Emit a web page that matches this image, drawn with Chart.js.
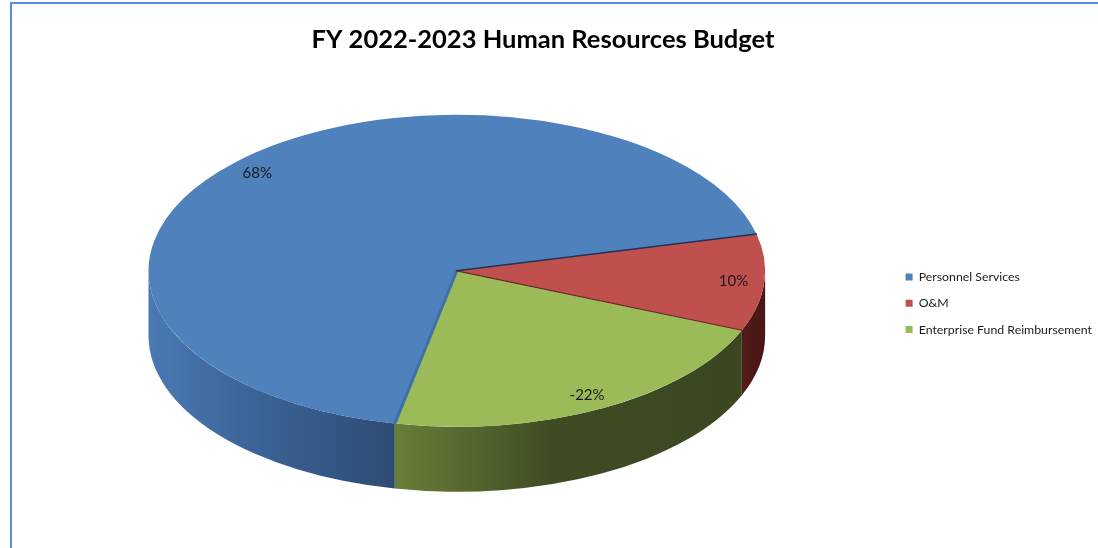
<!DOCTYPE html>
<html>
<head>
<meta charset="utf-8">
<title>FY 2022-2023 Human Resources Budget</title>
<script src="https://cdn.jsdelivr.net/npm/chart.js@4.4.0/dist/chart.umd.min.js"></script>
<style>
  html, body { margin: 0; padding: 0; background: #fff; }
  #frame {
    position: absolute; left: 10px; top: 2px; right: 0; bottom: 0;
    border-top: 2px solid #5b8de2; border-left: 2px solid #5b8de2;
  }
  #wrap { position: absolute; left: 0; top: 0; width: 1098px; height: 548px; }
</style>
</head>
<body>
<div id="frame"></div>
<div id="wrap"><canvas id="budgetChart"></canvas></div>
<script>
'use strict';
// budget split, percent of total (reimbursement comes back as a negative)
const categories = ['Personnel Services', 'O&M', 'Enterprise Fund Reimbursement'];
const shares = [68, 10, -22];

// slice colours: top face, side wall (left -> right), line where the slice starts
const topColors = ['#4f81bd', '#c0504d', '#9bbb59'];
const wallColors = [
  ['#4a79b3', '#3a6396', '#2e4b74'],
  ['#561c1a', '#4d1917', '#481715'],
  ['#697e37', '#3f4c23', '#3b4721'],
];
const seamColors = ['#3f70aa', '#1f3452', '#6a2624'];
const seamWidths = [3, 1.5, 1.2];

const FONT = 'Lato, "Open Sans", sans-serif';

// fake 3d: the flat pie gets squashed into an ellipse and given a rim
const STRETCH = 1.26; // horizontal radius / library radius
const TILT = 0.506;   // ellipse height / width
const DEPTH = 65;     // rim height in px

const total = shares.reduce((sum, v) => sum + Math.abs(v), 0);

function geometry(arc) {
  const rx = arc.outerRadius * STRETCH;
  return { cx: arc.x, cy: arc.y - DEPTH / 2, rx: rx, ry: rx * TILT, r: arc.outerRadius };
}

function drawWall(ctx, g, a1, a2, colors) {
  const x1 = g.cx + g.rx * Math.cos(a1);
  const x2 = g.cx + g.rx * Math.cos(a2);
  const grad = ctx.createLinearGradient(Math.min(x1, x2), 0, Math.max(x1, x2) + 1, 0);
  grad.addColorStop(0, colors[0]);
  grad.addColorStop(0.45, colors[1]);
  grad.addColorStop(1, colors[2]);
  ctx.beginPath();
  ctx.ellipse(g.cx, g.cy, g.rx, g.ry, 0, a1, a2);
  ctx.ellipse(g.cx, g.cy + DEPTH, g.rx, g.ry, 0, a2, a1, true);
  ctx.closePath();
  ctx.fillStyle = grad;
  ctx.fill();
}

const pie3d = {
  id: 'pie3d',
  afterLayout(chart) {
    // title sits a bit left of the canvas centre
    chart.titleBlock.left -= 19;
    chart.titleBlock.right -= 19;
  },
  beforeDatasetsDraw(chart) {
    const ctx = chart.ctx;
    const arcs = chart.getDatasetMeta(0).data;
    const g = geometry(arcs[0]);

    // only the front half of the rim (0..PI, repeating) can be seen
    arcs.forEach((arc, i) => {
      for (let k = 0; k < 3; k++) {
        const lo = Math.max(arc.startAngle, k * 2 * Math.PI);
        const hi = Math.min(arc.endAngle, k * 2 * Math.PI + Math.PI);
        if (hi > lo) {
          drawWall(ctx, g, lo, hi, wallColors[i]);
        }
      }
    });

    // top face: map the library's circle onto the ellipse
    ctx.save();
    ctx.translate(g.cx, g.cy);
    ctx.scale(g.rx / g.r, g.ry / g.r);
    ctx.translate(-arcs[0].x, -arcs[0].y);
  },
  afterDatasetsDraw(chart) {
    const ctx = chart.ctx;
    ctx.restore();

    const arcs = chart.getDatasetMeta(0).data;
    const g = geometry(arcs[0]);
    ctx.save();

    // seams between slices
    ctx.lineCap = 'round';
    arcs.forEach((arc, i) => {
      ctx.beginPath();
      ctx.moveTo(g.cx, g.cy);
      ctx.lineTo(g.cx + g.rx * Math.cos(arc.startAngle), g.cy + g.ry * Math.sin(arc.startAngle));
      ctx.strokeStyle = seamColors[i];
      ctx.lineWidth = seamWidths[i];
      ctx.stroke();
    });

    // percentage labels near the outer edge
    ctx.font = '15px ' + FONT;
    ctx.fillStyle = '#1a1a1a';
    ctx.textAlign = 'center';
    ctx.textBaseline = 'middle';
    arcs.forEach((arc, i) => {
      const mid = (arc.startAngle + arc.endAngle) / 2;
      const x = g.cx + 0.9 * g.rx * Math.cos(mid);
      const y = g.cy + 0.9 * g.ry * Math.sin(mid);
      ctx.fillText(Math.round(shares[i] / total * 100) + '%', x, y);
    });
    ctx.restore();
  },
};

const ctx = document.getElementById('budgetChart').getContext('2d');
new Chart(ctx, {
  type: 'pie',
  data: {
    labels: categories,
    datasets: [
      {
        data: shares.map((v) => Math.abs(v)),
        backgroundColor: topColors,
        borderWidth: 0,
        clip: false,
      },
    ],
  },
  options: {
    responsive: true,
    maintainAspectRatio: false,
    animation: false,
    events: [],
    rotation: 191.6,
    layout: {
      padding: { left: 22, right: -4, top: 0, bottom: 0 },
    },
    plugins: {
      title: {
        display: true,
        text: 'FY 2022-2023 Human Resources Budget',
        color: '#000',
        font: { family: FONT, size: 25.5, weight: 'bold' },
        padding: { top: 24, bottom: 4 },
      },
      legend: {
        position: 'right',
        fullSize: false,
        labels: {
          boxWidth: 7,
          boxHeight: 7,
          padding: 14,
          color: '#1a1a1a',
          font: { family: FONT, size: 12.3 },
        },
      },
      tooltip: { enabled: false },
    },
  },
  plugins: [pie3d],
});
</script>
</body>
</html>
